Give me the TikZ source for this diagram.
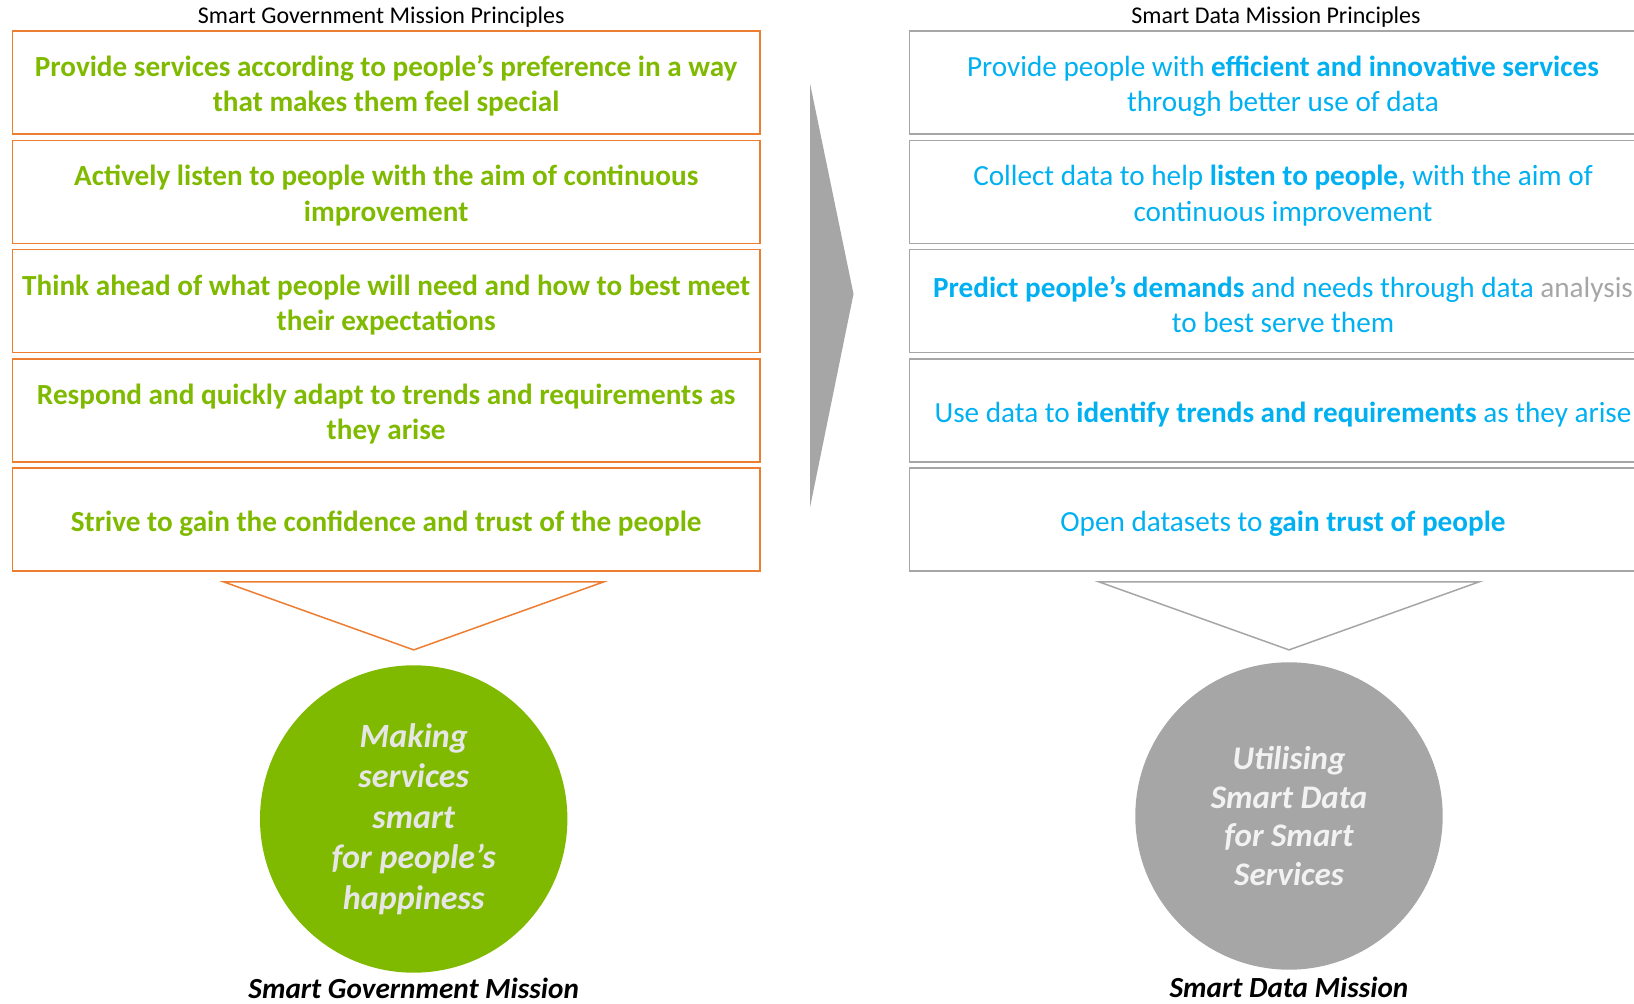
\documentclass[tikz,border=0pt]{standalone}
\usepackage{fontspec}
\setmainfont{Carlito}
\usetikzlibrary{positioning,calc}

\definecolor{govgreen}{HTML}{7FBA00}
\definecolor{govorange}{HTML}{ED7D31}
\definecolor{datablue}{HTML}{00B0F0}
\definecolor{datagray}{HTML}{A6A6A6}
\definecolor{circletext}{HTML}{E7E6E6}

\newcommand{\topgap}{\rule{0pt}{14pt}}

\tikzset{
  principle/.style={minimum width=373.75pt,minimum height=51.5pt,align=center,
    line width=0.75pt,inner sep=0pt,font=\fontsize{14.6}{17.7}\selectfont},
  govbox/.style={principle,draw=govorange,text=govgreen,font=\fontsize{14.6}{17.7}\selectfont\bfseries},
  databox/.style={principle,draw=datagray,text=datablue},
  heading/.style={inner sep=1pt,font=\fontsize{12}{13}\selectfont},
  mission/.style={circle,minimum size=153.7pt,inner sep=0pt,align=center,
    font=\bfseries\itshape\fontsize{17}{20.3}\selectfont},
  funnel/.style={line width=0.75pt},
  caption/.style={inner sep=0.5pt,font=\bfseries\itshape\fontsize{14.6}{17}\selectfont}
}

\begin{document}
\begin{tikzpicture}[x=0.5pt,y=-0.5pt,node distance=2.4pt]
  \useasboundingbox (0,0) rectangle (1634,1004);

  \node[govbox] (g1) at (386.2,82.5) {\topgap Provide services according to people’s preference in a way\\that makes them feel special};
  \node[govbox,below=of g1] (g2) {\topgap Actively listen to people with the aim of continuous\\improvement};
  \node[govbox,below=of g2] (g3) {\topgap Think ahead of what people will need and how to best meet\\their expectations};
  \node[govbox,below=of g3] (g4) {\topgap Respond and quickly adapt to trends and requirements as\\they arise};
  \node[govbox,below=of g4] (g5) {\topgap Strive to gain the confidence and trust of the people};
  \node[heading,above=0pt of g1,xshift=-2.5pt] (gtitle) {Smart Government Mission Principles};

  \node[databox] (d1) at (1283,82.5) {\topgap Provide people with \textbf{efficient and innovative services}\\through better use of data};
  \node[databox,below=of d1] (d2) {\topgap Collect data to help \textbf{listen to people,} with the aim of\\continuous improvement};
  \node[databox,below=of d2] (d3) {\topgap\textbf{Predict people’s demands} and needs through data \textcolor{datagray}{analysis}\\to best serve them};
  \node[databox,below=of d3] (d4) {\topgap Use data to \textbf{identify trends and requirements} as they arise};
  \node[databox,below=of d4] (d5) {\topgap Open datasets to \textbf{gain trust of people}};
  \node[heading,above=0pt of d1,xshift=-3.5pt] (dtitle) {Smart Data Mission Principles};

  \fill[datagray] (810,83.4) -- (853.5,294) -- (810,507.5) -- cycle;

  \node[mission,fill=govgreen,text=circletext] (gmission) at (413.7,819) {Making\\services\\smart\\for people’s\\happiness};
  \node[mission,fill=datagray,text=white!95!black,font=\bfseries\itshape\fontsize{16.5}{19.3}\selectfont] (dmission) at (1289,816) {Utilising\\Smart Data\\for Smart\\Services};

  \draw[funnel,govorange] ($(gmission.north)+(-190,-83)$) -- ($(gmission.north)+(190,-83)$) -- ($(gmission.north)+(0,-15)$) -- cycle;
  \draw[funnel,datagray] ($(dmission.north)+(-190,-80)$) -- ($(dmission.north)+(190,-80)$) -- ($(dmission.north)+(0,-12)$) -- cycle;

  \node[caption,below=2pt of gmission] (gcap) {Smart Government Mission};
  \node[caption,below=3pt of dmission] (dcap) {Smart Data Mission};
\end{tikzpicture}
\end{document}
